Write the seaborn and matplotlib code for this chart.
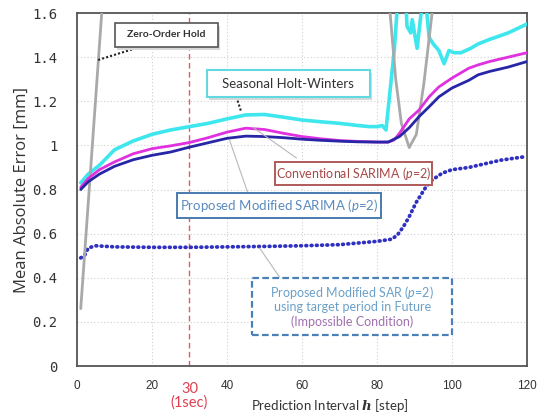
import matplotlib
matplotlib.use("Agg")
import matplotlib.pyplot as plt
import seaborn as sns
from matplotlib.patches import Rectangle

# Data (prediction step -> mean absolute error in mm)
holt_winters_x = [1, 3, 6, 10, 15, 20, 25, 30, 35, 40, 45, 50, 55, 60, 65, 70, 75, 78, 80,
                  81.4, 82.4, 83.2, 84.6, 85.4, 86.5, 87.8, 88, 89, 89.4, 90.7, 91.7, 92.5,
                  93.2, 93.9, 95, 96.5, 97.9, 99.2, 100.5, 102.4, 105, 107, 110, 115, 120]
holt_winters_y = [0.83, 0.87, 0.91, 0.98, 1.02, 1.05, 1.07, 1.085, 1.10, 1.12, 1.138, 1.14,
                  1.128, 1.115, 1.107, 1.10, 1.09, 1.085, 1.085, 1.09, 1.07, 1.2, 1.43, 1.62,
                  1.68, 1.62, 1.54, 1.51, 1.57, 1.44, 1.59, 1.66, 1.62, 1.49, 1.46, 1.43, 1.37,
                  1.43, 1.42, 1.42, 1.44, 1.46, 1.48, 1.51, 1.55]

conv_sarima_x = [1, 3, 6, 10, 15, 20, 25, 30, 35, 40, 45, 50, 55, 60, 65, 70, 75, 80, 83,
                 84.6, 86, 88.6, 91.2, 93.9, 96.5, 100, 104.5, 107, 110, 115, 120]
conv_sarima_y = [0.81, 0.85, 0.89, 0.925, 0.962, 0.985, 0.998, 1.013, 1.035, 1.06, 1.078,
                 1.072, 1.055, 1.04, 1.03, 1.022, 1.018, 1.015, 1.015, 1.025, 1.055, 1.12,
                 1.16, 1.22, 1.265, 1.305, 1.35, 1.365, 1.38, 1.40, 1.42]

mod_sarima_x = [1, 3, 6, 10, 15, 20, 25, 30, 35, 40, 45, 50, 55, 60, 65, 70, 75, 80, 83,
                86, 88.6, 91.2, 93.9, 96.5, 100, 104.5, 107, 110, 115, 120]
mod_sarima_y = [0.80, 0.835, 0.87, 0.905, 0.935, 0.955, 0.97, 0.992, 1.012, 1.032, 1.042,
                1.04, 1.035, 1.028, 1.023, 1.019, 1.016, 1.015, 1.015, 1.04, 1.08, 1.13,
                1.175, 1.22, 1.26, 1.295, 1.32, 1.335, 1.355, 1.38]

zoh_x = [1, 6.6, 8, 81, 83.5, 85, 86.5, 88.6, 90.5, 92.5, 94.7, 96, 120]
zoh_y = [0.26, 1.6, 1.95, 1.95, 1.6, 1.3, 1.1, 0.99, 1.05, 1.28, 1.6, 1.95, 1.95]

future_sar_x = [1, 2, 3, 5, 10, 20, 30, 40, 50, 60, 70, 80, 84, 85.5, 87, 88.6, 90.4, 93,
                94.7, 97.4, 100, 104.5, 113, 120]
future_sar_y = [0.49, 0.50, 0.535, 0.545, 0.54, 0.538, 0.538, 0.54, 0.542, 0.545, 0.55,
                0.565, 0.575, 0.595, 0.63, 0.677, 0.74, 0.81, 0.843, 0.874, 0.89, 0.90,
                0.933, 0.95]

x_ticks = [0, 20, 40, 60, 80, 100, 120]
y_ticks = [0, 0.2, 0.4, 0.6, 0.8, 1.0, 1.2, 1.4, 1.6]
marker_step = 30

sns.set_style("white")
plt.rcParams["font.family"] = ["Lato", "DejaVu Sans"]
plt.rcParams["mathtext.fontset"] = "custom"
plt.rcParams["mathtext.it"] = "Lato:italic"
plt.rcParams["mathtext.rm"] = "Lato"
plt.rcParams["mathtext.bf"] = "DejaVu Serif:bold:italic"

fig = plt.figure(figsize=(5.38, 4.17), dpi=100)
ax = fig.add_axes([0.1431, 0.1223, 0.8364, 0.8465])

# grid + reference line for 1 sec
ax.grid(True, color="#cfcfcf", linestyle=(0, (1, 2)), linewidth=0.8)
ax.axvline(marker_step, color="#e05a6a", linestyle=(0, (4, 2.5)), linewidth=1.0, zorder=1)

# curves
sns.lineplot(x=future_sar_x, y=future_sar_y, ax=ax, color="#2f2fc0", linewidth=2.7,
             linestyle=(0, (0.2, 1.2)), dash_capstyle="round", estimator=None, zorder=3)
sns.lineplot(x=holt_winters_x, y=holt_winters_y, ax=ax, color="#3ee6ee", linewidth=2.6,
             estimator=None, zorder=3)
sns.lineplot(x=zoh_x, y=zoh_y, ax=ax, color="#a9a9a9", linewidth=2.0, estimator=None, zorder=4)
sns.lineplot(x=conv_sarima_x, y=conv_sarima_y, ax=ax, color="#e030e0", linewidth=2.0,
             estimator=None, zorder=5)
sns.lineplot(x=mod_sarima_x, y=mod_sarima_y, ax=ax, color="#2626a6", linewidth=2.0,
             estimator=None, zorder=6)

ax.set_xlim(0, 120)
ax.set_ylim(0, 1.6)
ax.set_xticks(x_ticks)
ax.set_yticks(y_ticks)
ax.set_yticklabels([f"{v:g}" for v in y_ticks])

for s in ax.spines.values():
    s.set_color("#555555")
    s.set_linewidth(1.3)
ax.tick_params(direction="in", length=4, color="#555555", labelcolor="#333333")
ax.tick_params(axis="y", pad=14)
ax.tick_params(axis="x", pad=10)
for lab in ax.get_yticklabels():
    lab.set_family("DejaVu Sans Mono")
    lab.set_fontsize(10)
for lab in ax.get_xticklabels():
    lab.set_family("Liberation Sans")
    lab.set_fontsize(8.5)

ax.set_ylabel("Mean Absolute Error [mm]", fontsize=12, family="Open Sans", color="#333333")
ax.yaxis.set_label_coords(-0.105, 0.5)
ax.set_xlabel(r"Prediction Interval $\mathbf{h}$ [step]", fontsize=9.5, color="#333333")
ax.xaxis.set_label_coords(0.561, -0.088)

# the red "30 (1sec)" tick label
ax.annotate(str(marker_step), xy=(marker_step, 0), xycoords=("data", "axes fraction"),
            xytext=(0, -16.5), textcoords="offset points", ha="center", va="center",
            color="#e04050", fontsize=10.5)
ax.annotate("(1sec)", xy=(marker_step, 0), xycoords=("data", "axes fraction"),
            xytext=(0, -26.5), textcoords="offset points", ha="center", va="center",
            color="#e04050", fontsize=10.5)


def box(cx, cy, w, h, edge, ls="-", lw=1.4, shadow=False):
    # box given in axes fraction, width/height in pixels of the axes
    wf, hf = w / 450, h / 353
    if shadow:
        ax.add_patch(Rectangle((cx - wf / 2 + 0.006, cy - hf / 2 - 0.008), wf, hf,
                               transform=ax.transAxes, facecolor="#d8d8d8",
                               edgecolor="none", zorder=7))
    ax.add_patch(Rectangle((cx - wf / 2, cy - hf / 2), wf, hf, transform=ax.transAxes,
                           facecolor="white", edgecolor=edge, linestyle=ls,
                           linewidth=lw, zorder=8))


def connector(x0, y0, x1, y1, color, ls="-", lw=0.8):
    ax.plot([x0, x1], [y0, y1], transform=ax.transAxes, color=color, linestyle=ls,
            linewidth=lw, zorder=7)


# Zero-Order Hold
connector(0.047, 0.867, 0.140, 0.904, "#222222", ls=(0, (1, 1)), lw=1.5)
box(0.198, 0.938, 103, 24, "#555555", lw=1.2, shadow=True)
ax.text(0.198, 0.938, "Zero-Order Hold", transform=ax.transAxes, ha="center", va="center",
        fontsize=7.5, fontweight="bold", color="#333333", zorder=9)

# Seasonal Holt-Winters
connector(0.354, 0.763, 0.365, 0.720, "#222222", ls=(0, (1, 1)), lw=1.5)
box(0.469, 0.800, 163, 27, "#62d8e0", lw=1.5, shadow=True)
ax.text(0.469, 0.800, "Seasonal Holt-Winters", transform=ax.transAxes, ha="center",
        va="center", fontsize=9.5, color="#333333", zorder=9)

# Conventional SARIMA
connector(0.390, 0.677, 0.488, 0.589, "#b8b8b8")
box(0.615, 0.545, 157, 23, "#b05a5a", lw=1.4)
ax.text(0.615, 0.545, "Conventional SARIMA ($p$=2)", transform=ax.transAxes, ha="center",
        va="center", fontsize=9, color="#a84848", zorder=9)

# Proposed Modified SARIMA
connector(0.339, 0.640, 0.379, 0.493, "#b8b8b8")
box(0.450, 0.455, 204, 25, "#4a7ab0", lw=1.4)
ax.text(0.450, 0.455, "Proposed Modified SARIMA ($p$=2)", transform=ax.transAxes,
        ha="center", va="center", fontsize=9.5, color="#5a8ac0", zorder=9)

# Proposed Modified SAR (future)
connector(0.406, 0.334, 0.450, 0.252, "#b8b8b8")
box(0.612, 0.169, 200, 57, "#4a80b8", ls=(0, (3, 1.5)), lw=1.6)
ax.text(0.612, 0.207, "Proposed Modified SAR ($p$=2)", transform=ax.transAxes,
        ha="center", va="center", fontsize=9, color="#6aa0c8", zorder=9)
ax.text(0.612, 0.166, "using target period in Future", transform=ax.transAxes,
        ha="center", va="center", fontsize=9, color="#6aa0c8", zorder=9)
ax.text(0.612, 0.125, "(Impossible Condition)", transform=ax.transAxes,
        ha="center", va="center", fontsize=9, color="#a070b0", zorder=9)

fig.savefig("out.png", dpi=100)
